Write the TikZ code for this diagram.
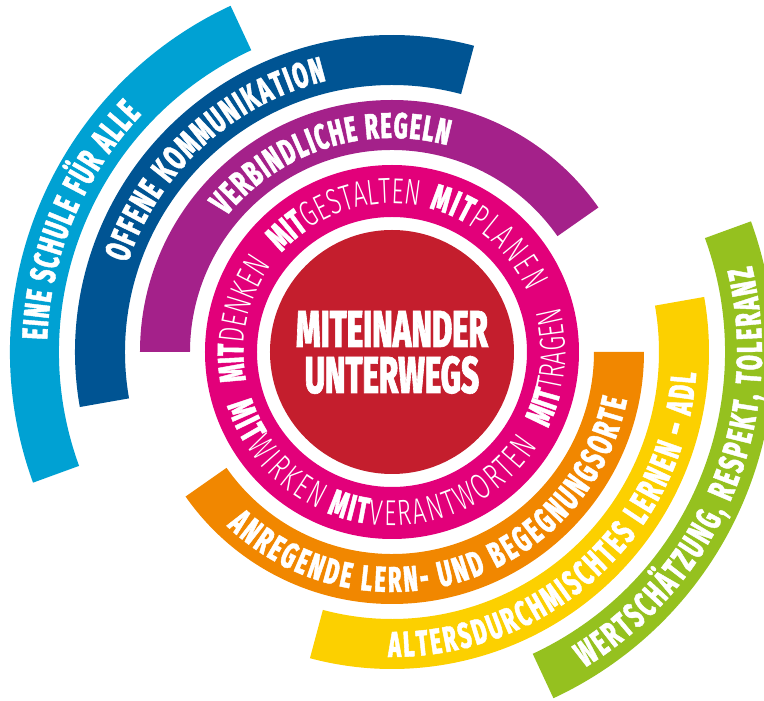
\documentclass[tikz,border=0pt]{standalone}
\usepackage{fontspec}
\usetikzlibrary{decorations.text}
\newfontfamily\boldf{Fira Sans ExtraBold}[FakeStretch=0.6, FakeBold=1.2]
\newfontfamily\thinf{Fira Sans Light}[FakeStretch=0.66]
\definecolor{cLightBlue}{RGB}{0,161,211}
\definecolor{cDarkBlue}{RGB}{0,84,147}
\definecolor{cPurple}{RGB}{164,33,138}
\definecolor{cPink}{RGB}{226,0,122}
\definecolor{cRed}{RGB}{196,30,45}
\definecolor{cOrange}{RGB}{241,135,0}
\definecolor{cYellow}{RGB}{252,208,0}
\definecolor{cGreen}{RGB}{149,193,31}
\newcommand\bandfont{\boldf\fontsize{36}{36}\selectfont}
\newcommand\mitB{\boldf\fontsize{37}{37}\selectfont}
\newcommand\mitT{\thinf\fontsize{36}{36}\selectfont}
% colour, inner radius, outer radius, start angle, end angle
\newcommand\bandarc[5]{%
  \fill[#1] (#4:#2) arc[start angle=#4, end angle=#5, radius=#2]
    -- (#5:#3) arc[start angle=#5, end angle=#4, radius=#3] -- cycle;}
% radius, start angle, end angle, text
\newcommand\curvedtext[4]{%
  \path[curved label, decoration={text={#4}}] (#2:#1)
    arc[start angle=#2, end angle=#3, radius=#1];}
\tikzset{
  curved label/.style={decorate, decoration={text along path,
      text align=fit to path, text color=white}},
  title/.style={text=white, anchor=base, inner sep=0pt,
      font=\boldf\fontsize{52}{52}\selectfont}
}
\begin{document}
\begin{tikzpicture}[x=1pt,y=1pt]
\clip (-392,-349) rectangle (372,352);
% outer bands
\bandarc{cLightBlue}{333}{382}{115}{200}
\bandarc{cDarkBlue}{267}{317}{75}{190}
\bandarc{cPurple}{202}{252}{35}{180}
\bandarc{cOrange}{202}{252}{215}{360}
\bandarc{cYellow}{267}{317}{255}{370}
\bandarc{cGreen}{333}{382}{295}{380}
% pink ring and red core
\fill[cPink, even odd rule] (0,0) circle[radius=187] (0,0) circle[radius=135];
\fill[cRed] (0,0) circle[radius=122];
% band texts
\curvedtext{345}{178}{136.5}{|\bandfont|EINE SCHULE FÜR ALLE}
\curvedtext{279}{161.4}{103.6}{|\bandfont|OFFENE KOMMUNIKATION}
\curvedtext{214}{140.7}{75}{|\bandfont|VERBINDLICHE REGELN}
\curvedtext{240}{226.5}{348.5}{|\bandfont|ANREGENDE LERN- UND BEGEGNUNGSORTE}
\curvedtext{305}{269.3}{356}{|\bandfont|ALTERSDURCHMISCHTES LERNEN – ADL}
\curvedtext{370}{301.4}{373.5}{|\bandfont|WERTSCHÄTZUNG, RESPEKT, TOLERANZ}
% ring texts
\curvedtext{148.5}{191}{144}{|\mitB|MIT|\mitT|DENKEN}
\curvedtext{148.5}{138}{81}{|\mitB|MIT|\mitT|GESTALTEN}
\curvedtext{148.5}{75.5}{24}{|\mitB|MIT|\mitT|PLANEN}
\curvedtext{173.5}{198}{245}{|\mitB|MIT|\mitT|WIRKEN}
\curvedtext{173.5}{248}{327}{|\mitB|MIT|\mitT|VERANTWORTEN}
\curvedtext{173.5}{334}{375}{|\mitB|MIT|\mitT|TRAGEN}
% centre
\node[title] (t1) at (0,5) {MITEINANDER};
\node[title] (t2) at (0,-41) {UNTERWEGS};
\end{tikzpicture}
\end{document}
